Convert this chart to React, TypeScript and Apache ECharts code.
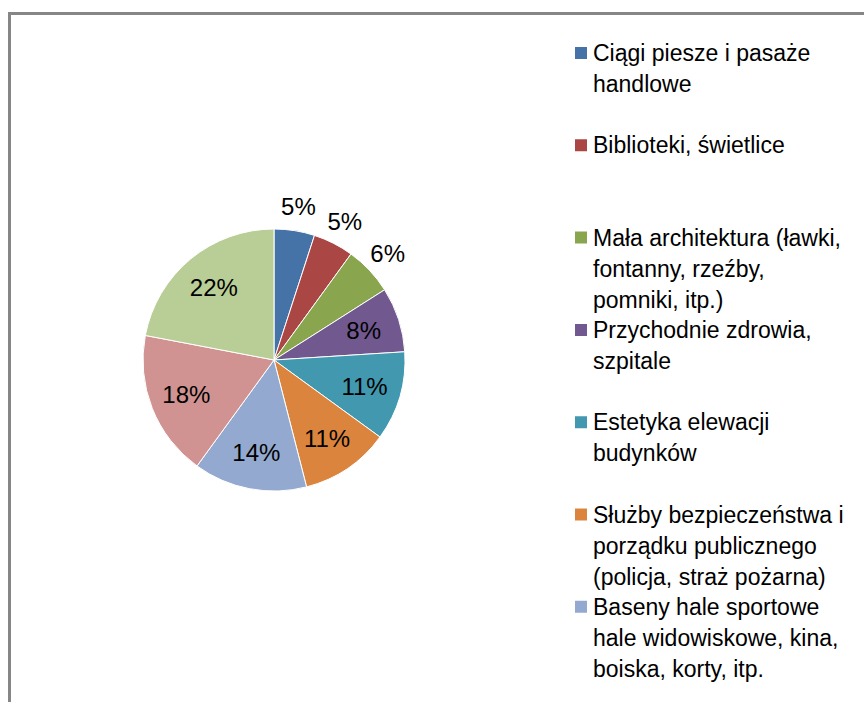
import React, { useEffect, useRef } from "react";
import * as echarts from "echarts";

const categories = [
  "Ciągi piesze i pasaże\nhandlowe",
  "Biblioteki, świetlice",
  "Mała architektura (ławki,\nfontanny, rzeźby,\npomniki, itp.)",
  "Przychodnie zdrowia,\nszpitale",
  "Estetyka elewacji\nbudynków",
  "Służby bezpieczeństwa i\nporządku publicznego\n(policja, straż pożarna)",
  "Baseny hale sportowe\nhale widowiskowe, kina,\nboiska, korty, itp.",
  "Inne obiekty",
  "Pozostałe",
];
const values = [5, 5, 6, 8, 11, 11, 14, 18, 22];
const colors = [
  "#4572A7",
  "#AA4643",
  "#89A54E",
  "#71588F",
  "#4198AF",
  "#DB843D",
  "#93A9CF",
  "#D19392",
  "#B9CD96",
];
// legend entries visible in the picture (the rest is clipped off the bottom)
const visibleLegendCount = 7;

const W = 864;
const H = 702;
const CX = 274;
const CY = 360;
const R = 131;
const FONT = "'Liberation Sans', Arial, sans-serif";
const LEG_LH = 31;
const LEG_FIRST = 53;
const LEG_STEP = 92.3;

export default function App() {
  const ref = useRef<HTMLDivElement>(null);
  useEffect(() => {
    if (!ref.current) return;
    const chart = echarts.init(ref.current, undefined, { renderer: "svg" });
    const total = values.reduce((a, b) => a + b, 0);
    const mids: number[] = [];
    let acc = 0;
    values.forEach((v) => {
      mids.push(((acc + v / 2) / total) * Math.PI * 2);
      acc += v;
    });

    const legends = categories.slice(0, visibleLegendCount).map((name, i) => {
      const n = name.split("\n").length;
      const center = LEG_FIRST + LEG_STEP * i;
      return {
        data: [name],
        left: 573,
        top: center - ((2 * n - 1) * LEG_LH) / 2,
        orient: "vertical",
        padding: 0,
        icon: "rect",
        itemWidth: 14,
        itemHeight: 14,
        selectedMode: false,
        formatter: (nm: string) => " \n".repeat(n - 1) + nm,
        textStyle: {
          fontFamily: FONT,
          fontSize: 23,
          lineHeight: LEG_LH,
          color: "#000",
        },
      };
    });

    chart.setOption({
      animation: false,
      backgroundColor: "#fff",
      color: colors,
      legend: legends,
      graphic: [
        {
          type: "rect",
          shape: { x: 9.5, y: 13.5, width: 1000, height: 900 },
          style: { fill: "none", stroke: "#868686", lineWidth: 3 },
          silent: true,
        },
      ],
      series: [
        {
          type: "pie",
          center: [CX, CY],
          radius: [0, R],
          startAngle: 90,
          clockwise: true,
          avoidLabelOverlap: false,
          itemStyle: { borderColor: "#fff", borderWidth: 1 },
          label: {
            show: true,
            position: "inside",
            formatter: (p: any) => p.value + "%",
            fontFamily: FONT,
            fontSize: 24,
            color: "#000",
          },
          labelLine: { show: false },
          labelLayout: (p: any) => {
            const i = p.dataIndex;
            const f = values[i] < 7 ? 1.19 : 0.72;
            const a = mids[i];
            return {
              x: CX + Math.sin(a) * R * f,
              y: CY - Math.cos(a) * R * f,
              align: "center",
              verticalAlign: "middle",
            };
          },
          data: categories.map((name, i) => ({ name, value: values[i] })),
        },
      ],
    });
    return () => chart.dispose();
  }, []);
  return (
    <div
      ref={ref}
      style={{ position: "fixed", left: 0, top: 0, width: W, height: H }}
    />
  );
}
